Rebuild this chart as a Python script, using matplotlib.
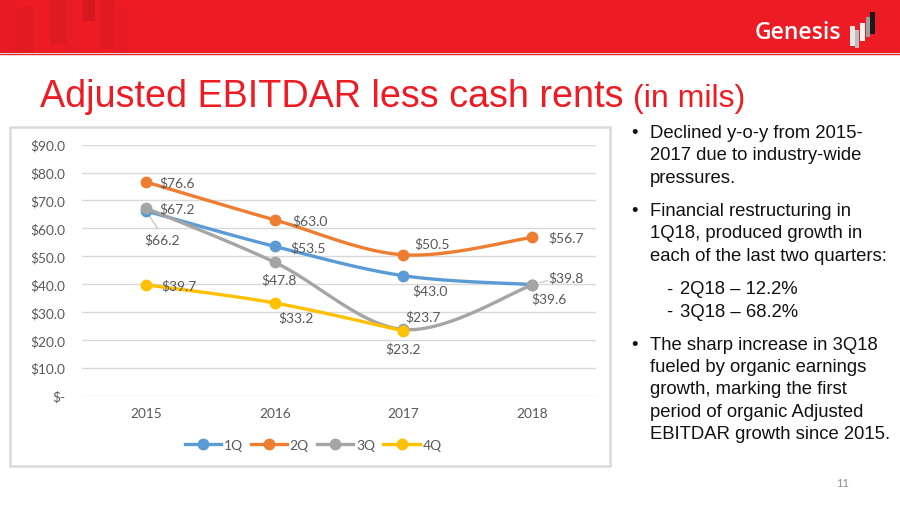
import numpy as np
import matplotlib
matplotlib.use("Agg")
import matplotlib.pyplot as plt
from matplotlib.patches import Rectangle
from matplotlib.lines import Line2D

# data
years = ["2015", "2016", "2017", "2018"]
q1 = [66.2, 53.5, 43.0, 39.8]
q2 = [76.6, 63.0, 50.5, 56.7]
q3 = [67.2, 47.8, 23.7, 39.6]
q4 = [39.7, 33.2, 23.2]
series_names = ["1Q", "2Q", "3Q", "4Q"]
yticks = [0, 10, 20, 30, 40, 50, 60, 70, 80, 90]

bullets = [
    ["Declined y-o-y from 2015-", "2017 due to industry-wide", "pressures."],
    ["Financial restructuring in", "1Q18, produced growth in", "each of the last two quarters:"],
    ["The sharp increase in 3Q18", "fueled by organic earnings", "growth, marking the first",
     "period of organic Adjusted", "EBITDAR growth since 2015."],
]
sub_items = ["2Q18 \u2013 12.2%", "3Q18 \u2013 68.2%"]

colors = ["#5B9BD5", "#ED7D31", "#A5A5A5", "#FFC000"]
RED = "#ED1C24"
GRAY_TXT = "#595959"

W, H = 900, 506
fig = plt.figure(figsize=(9, 5.06), dpi=100)


def fx(x):
    return x / W


def fy(y):
    return 1 - y / H


# header band
bg = fig.add_axes([0, 0, 1, 1])
bg.set_xlim(0, W)
bg.set_ylim(H, 0)
bg.axis("off")
bg.add_patch(Rectangle((0, 0), W, 55, color=RED, zorder=0))
# faint darker stripes on the left of the band
for x0, w, y0, y1, c in [(0, 18, 0, 55, "#E61B23"), (18, 16, 8, 55, "#E21A22"),
                         (50, 16, 0, 45, "#DE1A22"), (66, 12, 0, 55, "#E81C24"),
                         (83, 12, 0, 22, "#D61920"), (100, 15, 0, 50, "#E11A22"),
                         (118, 10, 10, 55, "#E71B23"), (135, 14, 20, 55, "#EA1C24")]:
    bg.add_patch(Rectangle((x0, y0), w, y1 - y0, color=c, zorder=1, lw=0))
bg.add_patch(Rectangle((0, 54), W, 1.0, color="#DCDCDC", zorder=2, lw=0))

# logo
bg.text(798, 33, "Genesis", color="white", fontsize=16.5, fontweight="semibold",
        family="Open Sans", ha="center", va="center", zorder=3)
for x0, y0, w, h, c in [(850, 27, 5, 20, "#E6E6E6"), (855, 31, 4, 18, "#BDBDBD"),
                        (860, 24, 5, 18, "#F2F2F2"), (866, 18, 4, 20, "#9E9E9E"),
                        (870, 13, 5, 22, "#1A1A1A")]:
    bg.add_patch(Rectangle((x0, y0), w, h, color=c, zorder=3, lw=0))

# title
bg.text(40, 107, "Adjusted EBITDAR less cash rents", color=RED, fontsize=27.2,
        family="Liberation Sans", ha="left", va="baseline")
bg.text(633, 107, "(in mils)", color=RED, fontsize=23,
        family="Liberation Sans", ha="left", va="baseline")

# chart frame
bg.add_patch(Rectangle((10, 128), 600, 339, fill=False, ec="#DADADA", lw=1.8, zorder=1))

# bullet text
tkw = dict(family="Liberation Sans", fontsize=13.3, color="#111111", va="center", ha="left")
line_h = 22.5
y = 133
for i, block in enumerate(bullets):
    bg.text(634, y, "\u2022", **{**tkw, "ha": "center"})
    for line in block:
        bg.text(650, y, line, **tkw)
        y += line_h
    y += 11
    if i == 1:
        for s in sub_items:
            bg.text(666, y, "-", **tkw)
            bg.text(680, y, s, **tkw)
            y += line_h
        y += 10

bg.text(843, 484, "11", family="Lato", fontsize=8, color="#8C8C8C", ha="center", va="center")

# chart axes
left, right, top, bottom = 82, 596, 145.7, 396.5
ax = fig.add_axes([fx(left), fy(bottom), fx(right - left), (bottom - top) / H])
ax.set_xlim(-0.5, 3.5)
ax.set_ylim(0, 90)
for s in ax.spines.values():
    s.set_visible(False)
ax.set_yticks(yticks)
ax.set_yticklabels(["$-" if v == 0 else f"${v:.1f}" for v in yticks])
ax.set_xticks(range(len(years)))
ax.set_xticklabels(years)
ax.tick_params(length=0, labelsize=9.8, labelcolor=GRAY_TXT)
ax.tick_params(axis="y", pad=12)
ax.tick_params(axis="x", pad=8.5)
for lab in ax.get_xticklabels() + ax.get_yticklabels():
    lab.set_family("Lato")
ax.grid(axis="y", color="#D9D9D9", lw=1)
ax.set_axisbelow(True)


def smooth(xs, ys, n=40):
    # Excel-like smoothed line (Catmull-Rom bezier)
    pts = np.column_stack([xs, ys]).astype(float)
    out = []
    for i in range(len(pts) - 1):
        p0 = pts[i - 1] if i > 0 else pts[i]
        p1, p2 = pts[i], pts[i + 1]
        p3 = pts[i + 2] if i + 2 < len(pts) else pts[i + 1]
        c1 = p1 + (p2 - p0) / 6
        c2 = p2 - (p3 - p1) / 6
        t = np.linspace(0, 1, n)[:, None]
        seg = (1 - t) ** 3 * p1 + 3 * (1 - t) ** 2 * t * c1 + 3 * (1 - t) * t ** 2 * c2 + t ** 3 * p2
        out.append(seg)
    seg = np.vstack(out)
    return seg[:, 0], seg[:, 1]


all_series = [q1, q2, q3, q4]
for vals, c, z in zip(all_series, colors, [3, 4, 5, 6]):
    xs = np.arange(len(vals))
    sx, sy = smooth(xs, vals)
    ax.plot(sx, sy, color=c, lw=2.4, zorder=z, solid_capstyle="round")
    ax.plot(xs, vals, "o", color=c, ms=7.5, zorder=z + 0.5)

# data labels: (series, index, dx px, dy px)
label_pos = {
    0: [(16, 28), (33, 1), (27, 15), (34, -7)],
    1: [(31, 0), (35, 0), (29, -12), (34, 0)],
    2: [(31, 0), (4, 17), (20, -13), (17, 13)],
    3: [(33, 0), (21, 14), (0, 17)],
}
for si, vals in enumerate(all_series):
    for i, v in enumerate(vals):
        dx, dy = label_pos[si][i]
        ax.annotate(f"${v:.1f}", (i, v), xytext=(dx * 0.72, -dy * 0.72), textcoords="offset points",
                    ha="center", va="center", fontsize=10, color=GRAY_TXT, family="Lato",
                    zorder=10, annotation_clip=False)

# leader lines for crowded labels
ax.annotate("", (0, q1[0]), xytext=(11 * 0.72, -17 * 0.72), textcoords="offset points",
            arrowprops=dict(arrowstyle="-", color="#BFBFBF", lw=0.8, shrinkA=0, shrinkB=3))
ax.annotate("", (3, q1[3]), xytext=(16 * 0.72, 4 * 0.72), textcoords="offset points",
            arrowprops=dict(arrowstyle="-", color="#BFBFBF", lw=0.8, shrinkA=0, shrinkB=6))

handles = [Line2D([0], [0], color=c, lw=2.4, marker="o", ms=7.5) for c in colors]
leg = fig.legend(handles, series_names, loc="center", bbox_to_anchor=(fx(313), fy(446)),
                 ncol=4, frameon=False, handlelength=2.6, columnspacing=0.6, handletextpad=0.2,
                 prop={"family": "Lato", "size": 10})
for t in leg.get_texts():
    t.set_color(GRAY_TXT)

fig.savefig("out.png", dpi=100)
